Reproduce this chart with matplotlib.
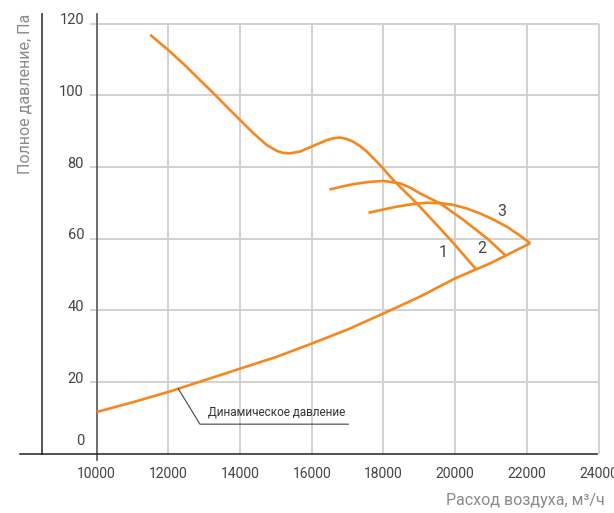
import matplotlib
matplotlib.use('Agg')
import matplotlib.pyplot as plt

########## DADOS ##########

x_ticks = [10000, 12000, 14000, 16000, 18000, 20000, 22000, 24000]
x_labels = ['10000', '12000', '14000', '16000', '18000', '20000', '22000', '24000']
y_ticks = [0, 20, 40, 60, 80, 100, 120]
y_labels = ['0', '20', '40', '60', '80', '100', '120']

# curva 1 (principal)
x1 = [11490, 12000, 12450, 12883, 13255, 13628, 14000, 14371, 14745, 15024,
      15200, 15395, 15674, 16000, 16419, 16600, 16790, 16980, 17162, 17350,
      17536, 17907, 18278, 18931, 19490, 19953, 20327, 20600]
y1 = [116.9, 112.6, 108.5, 104.2, 100.6, 96.8, 93.1, 89.4, 86.1, 84.5,
      83.9, 83.8, 84.3, 85.7, 87.5, 88.0, 88.2, 87.8, 87.0, 85.8,
      84.3, 80.5, 76.3, 69.8, 63.8, 58.7, 54.4, 51.2]

# curva 2
x2 = [16493, 16830, 17162, 17580, 18000, 18466, 18750, 19024, 19582, 20232,
      20885, 21396]
y2 = [73.7, 74.5, 75.2, 75.8, 76.1, 75.4, 74.2, 72.6, 69.8, 65.2,
      60.1, 55.4]

# curva 3
x3 = [17581, 17980, 18373, 18790, 19210, 19580, 19953, 20330, 20698, 21070,
      21443, 21770, 22094]
y3 = [67.2, 68.1, 68.9, 69.6, 70.0, 69.9, 69.4, 68.4, 67.0, 65.3,
      63.3, 61.1, 58.7]

# pressao dinamica
xd = [10000, 11000, 12000, 13020, 14000, 15020, 16000, 17020, 18000, 19020,
      20000, 21000, 22094]
yd = [11.6, 14.3, 17.2, 20.5, 23.7, 27.0, 30.7, 34.7, 39.1, 43.8,
      48.9, 53.2, 58.7]

curve_labels = ['1', '2', '3']
curve_label_x = [19670, 20740, 21300]
curve_label_y = [56.0, 57.2, 67.7]

########## GRAFICO ##########

orange = '#f7861e'
fonte = ['Roboto', 'DejaVu Sans']

fig = plt.figure(figsize=(6.14, 5.13), dpi=100)
ax = fig.add_axes([0, 0, 1, 1])
ax.set_xlim(7302, 24430)
ax.set_ylim(-16.6, 126.6)
ax.axis('off')

# grade
ax.hlines(y_ticks[1:], 9800, 24000, color='#cfcfcf', lw=1.3, zorder=1)
ax.vlines(x_ticks[1:], 0, 120, color='#cfcfcf', lw=1.3, zorder=1)

# eixos
ax.plot([8466, 8466], [0, 122.7], color='#555555', lw=1.4, zorder=2)
ax.plot([10000, 10000], [-1.9, 122.7], color='#555555', lw=1.2, zorder=2)
ax.plot([7860, 23960], [0, 0], color='#222222', lw=1.1, zorder=2)

# curvas
for xs, ys in [(x1, y1), (x2, y2), (x3, y3), (xd, yd)]:
    ax.plot(xs, ys, color=orange, lw=1.9, zorder=3,
            solid_capstyle='butt', solid_joinstyle='round')

for t, xx, yy in zip(curve_labels, curve_label_x, curve_label_y):
    ax.text(xx, yy, t, fontsize=11.5, family=fonte, color='#444444',
            ha='center', va='center')

# rotulo pressao dinamica
ax.plot([12275, 12880, 17020], [18.1, 8.2, 8.2], color='#444444', lw=0.8,
        zorder=3)
ax.text(13100, 11.6, 'Динамическое давление', fontsize=8.5, family=fonte,
        color='#333333', ha='left', va='center')

# rotulos dos ticks
for v, t in zip(x_ticks, x_labels):
    ax.text(v, -5.8, t, fontsize=10, family=fonte, color='#444444',
            ha='center', va='center')
for v, t in zip(y_ticks, y_labels):
    yy = 3.5 if v == 0 else v + 0.9
    ax.text(9646, yy, t, fontsize=10.5, family=fonte, color='#444444',
            ha='right', va='center')

ax.text(7999, 122.8, 'Полное давление, Па', fontsize=11.5, family=fonte,
        color='#8a8a8a', rotation=90, ha='center', va='top')
ax.text(24160, -13.0, 'Расход воздуха, м³/ч', fontsize=11.5, family=fonte,
        color='#8a8a8a', ha='right', va='center')

fig.savefig('out.png', dpi=100)
